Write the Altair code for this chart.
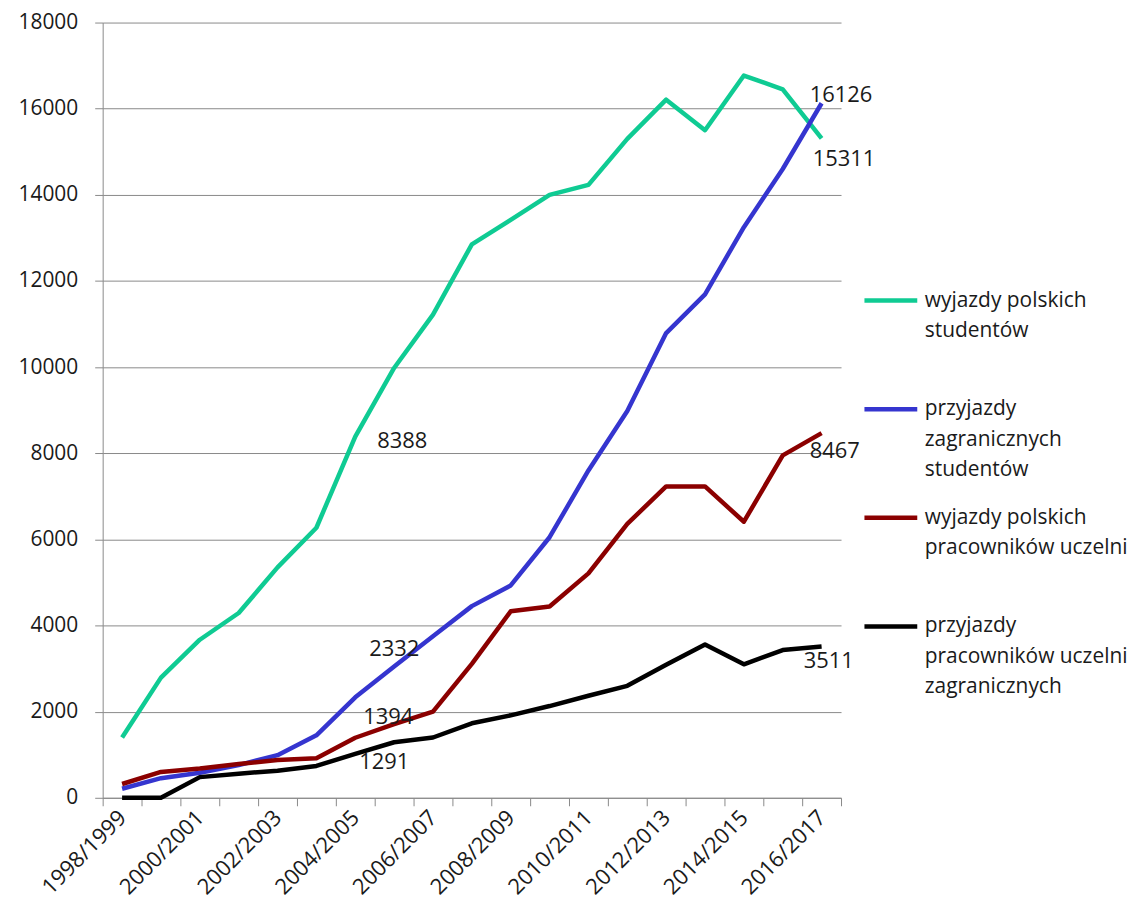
import json
import altair as alt
import pandas as pd

years = ["1998/1999", "1999/2000", "2000/2001", "2001/2002", "2002/2003",
         "2003/2004", "2004/2005", "2005/2006", "2006/2007", "2007/2008",
         "2008/2009", "2009/2010", "2010/2011", "2011/2012", "2012/2013",
         "2013/2014", "2014/2015", "2015/2016", "2016/2017"]

series_names = ["wyjazdy polskich studentów",
                "przyjazdy zagranicznych studentów",
                "wyjazdy polskich pracowników uczelni",
                "przyjazdy pracowników uczelni zagranicznych"]

out_students = [1400, 2790, 3670, 4290, 5350, 6270, 8388, 9980, 11220, 12850,
                13420, 14000, 14230, 15300, 16210, 15500, 16770, 16450, 15311]
in_students = [210, 455, 580, 760, 990, 1450, 2332, 3050, 3750, 4450,
               4930, 6050, 7600, 8980, 10790, 11690, 13250, 14600, 16126]
out_staff = [320, 600, 680, 785, 877, 920, 1394, 1708, 2000, 3110,
             4330, 4440, 5210, 6360, 7230, 7230, 6410, 7950, 8467]
in_staff = [0, 0, 480, 560, 630, 740, 1020, 1290, 1400, 1730,
            1915, 2130, 2370, 2600, 3090, 3560, 3100, 3430, 3511]

colors = ["#0FCB93", "#3535CF", "#8B0000", "#000000"]

legend_lines = {
    series_names[0]: ["wyjazdy polskich", "studentów", ""],
    series_names[1]: ["przyjazdy", "zagranicznych", "studentów"],
    series_names[2]: ["wyjazdy polskich", "pracowników uczelni", ""],
    series_names[3]: ["przyjazdy", "pracowników uczelni", "zagranicznych"],
}

# data labels: (series, year, text)
annotations = [
    (series_names[0], "2004/2005", "8388"),
    (series_names[1], "2004/2005", "2332"),
    (series_names[2], "2004/2005", "1394"),
    (series_names[3], "2004/2005", "1291"),
    (series_names[1], "2016/2017", "16126"),
    (series_names[0], "2016/2017", "15311"),
    (series_names[2], "2016/2017", "8467"),
    (series_names[3], "2016/2017", "3511"),
]
# label offsets (style)
label_offsets = [(22, 5), (14, -49), (8, -21), (4, 8),
                 (-12, -8), (-9, 21), (-12, 18), (-18, 15)]

all_values = [out_students, in_students, out_staff, in_staff]
rows = []
for name, vals in zip(series_names, all_values):
    for y, v in zip(years, vals):
        rows.append({"year": y, "series": name, "value": v})
df = pd.DataFrame(rows)

FONT = "Open Sans"
TXT = "#1a1a1a"
GRAY = "#8a8a8a"

x_enc = alt.X("year:N", sort=years, bandPosition=0.5,
              scale=alt.Scale(type="band", paddingInner=0, paddingOuter=0, domain=years),
              axis=alt.Axis(title=None, tickBand="extent", labelAngle=315,
                            labelAlign="right", labelBaseline="middle",
                            labelPadding=8, tickSize=8, labelOverlap=False,
                            labelFont=FONT, labelFontSize=22, labelColor=TXT,
                            domainColor=GRAY, tickColor=GRAY,
                            labelExpr="parseInt(substring(datum.value,0,4)) % 2 == 0 ? datum.value : ''",
                            grid=False))
y_enc = alt.Y("value:Q", scale=alt.Scale(domain=[0, 18000], nice=False),
              axis=alt.Axis(title=None, values=list(range(0, 18001, 2000)),
                            grid=True, gridColor=GRAY, gridOpacity=1,
                            domainColor=GRAY, tickColor=GRAY,
                            tickSize=8, labelPadding=17,
                            labelFont=FONT, labelFontSize=21, labelColor=TXT,
                            format="d"))

lines = alt.Chart(df).mark_line(strokeWidth=4.5, strokeJoin="round").encode(
    x=x_enc, y=y_enc,
    color=alt.Color("series:N",
                    scale=alt.Scale(domain=series_names, range=colors),
                    sort=series_names,
                    legend=alt.Legend(
                        title=None, orient="none", legendX=762, legendY=250,
                        symbolType="stroke", symbolStrokeWidth=4.5,
                        symbolSize=2809, labelOffset=5, labelLimit=400,
                        labelFont=FONT, labelFontSize=21, labelColor=TXT,
                        labelBaseline="middle",
                        rowPadding=9, padding=0,
                        labelExpr=json.dumps(legend_lines, ensure_ascii=False) + "[datum.label]",
                    )),
)

layers = [lines]
for (s, yr, t), (dx, dy) in zip(annotations, label_offsets):
    v = df[(df.series == s) & (df.year == yr)].value.iloc[0]
    ann = pd.DataFrame([{"year": yr, "value": v, "text": t}])
    layers.append(
        alt.Chart(ann).mark_text(align="left", baseline="middle", dx=dx, dy=dy,
                                 font=FONT, fontSize=22, color=TXT)
        .encode(x=alt.X("year:N", sort=years, bandPosition=0.5),
                y=alt.Y("value:Q"), text="text:N")
    )

chart = alt.layer(*layers).properties(
    width=741, height=778,
    autosize=alt.AutoSizeParams(type="none"),
    padding={"left": 95, "top": 13, "right": 290, "bottom": 110},
).configure(
    style={"guide-label": {"lineHeight": 30.5, "font": FONT}}
).configure_view(stroke=None).configure_axis(
    labelFont=FONT, labelColor=TXT,
    domainColor=GRAY, tickColor=GRAY, gridColor=GRAY, gridOpacity=1,
    domainWidth=1, tickWidth=1, gridWidth=1,
)

chart.save("out.html", embed_options={"renderer": "svg", "actions": False})
